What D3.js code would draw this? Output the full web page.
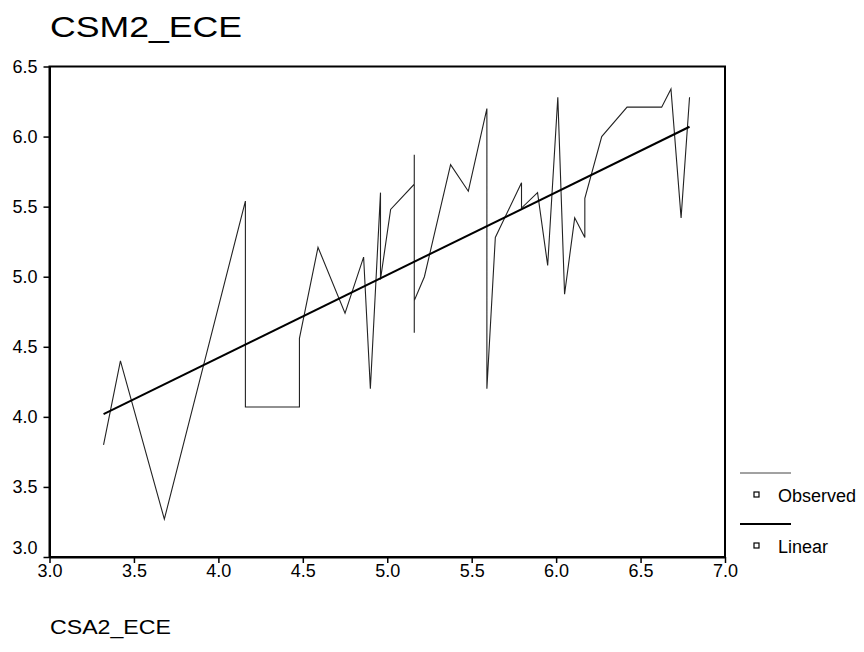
<!DOCTYPE html>
<html>
<head>
<meta charset="utf-8">
<script src="https://cdnjs.cloudflare.com/ajax/libs/d3/7.8.5/d3.min.js"></script>
<style>
	body { margin: 0; background: #fff; }
	svg { display: block; font-family: Arial, "Liberation Sans", sans-serif; }
	.axis path, .axis line { stroke: #000; }
	.axis text { font-size: 18px; fill: #000; }
</style>
</head>
<body>
<svg id="chart" width="864" height="652"></svg>
<script>
/*Values*/
var obsX = [3.32, 3.42, 3.68, 4.16, 4.16, 4.48, 4.48, 4.59, 4.75, 4.86, 4.90, 4.96, 4.96, 5.02,
	5.16, 5.16, 5.16, 5.16, 5.22, 5.375, 5.48, 5.59, 5.59, 5.64, 5.795, 5.795, 5.89, 5.95,
	6.01, 6.05, 6.11, 6.17, 6.17, 6.27, 6.42, 6.625, 6.68, 6.74, 6.79];
var obsY = [3.80, 4.40, 3.27, 5.54, 4.07, 4.07, 4.56, 5.21, 4.74, 5.14, 4.20, 5.60, 4.98, 5.48,
	5.66, 5.87, 4.60, 4.83, 5.00, 5.80, 5.61, 6.20, 4.20, 5.28, 5.67, 5.49, 5.60, 5.08,
	6.28, 4.875, 5.42, 5.28, 5.56, 6.00, 6.21, 6.21, 6.34, 5.42, 6.28];
var fitX = [3.32, 6.79];
var fitY = [4.02, 6.07];
var xTicks = [3.0, 3.5, 4.0, 4.5, 5.0, 5.5, 6.0, 6.5, 7.0];
var yTicks = [3.0, 3.5, 4.0, 4.5, 5.0, 5.5, 6.0, 6.5];
var legendLabels = ["Observed", "Linear"];
var titleText = "CSM2_ECE";
var xTitleText = "CSA2_ECE";

(function (d3) {
	var svg = d3.select("#chart");
	var left = 49.5, right = 725, top = 66.5, bottom = 557;

	/*Scales*/
	var xScale = d3.scaleLinear().domain([3, 7]).range([left, right]);
	var yScale = d3.scaleLinear().domain([3, 6.5]).range([bottom, top]);

	/*Title and x title*/
	svg.append("text").attr("x", 50).attr("y", 37)
		.attr("font-size", 29).attr("textLength", 192).attr("lengthAdjust", "spacingAndGlyphs")
		.text(titleText);
	svg.append("text").attr("x", 50).attr("y", 634)
		.attr("font-size", 20).attr("textLength", 121).attr("lengthAdjust", "spacingAndGlyphs")
		.text(xTitleText);

	/*Frame*/
	svg.append("rect")
		.attr("x", left).attr("y", top)
		.attr("width", right - left).attr("height", bottom - top)
		.attr("fill", "none").attr("stroke", "#000").attr("stroke-width", 2);

	/*Axes*/
	var xAxis = d3.axisBottom(xScale).tickValues(xTicks).tickFormat(d3.format(".1f"))
		.tickSize(6).tickSizeOuter(0).tickPadding(1);
	var yAxis = d3.axisLeft(yScale).tickValues(yTicks).tickFormat(d3.format(".1f"))
		.tickSize(6).tickSizeOuter(0).tickPadding(6);

	svg.append("g").classed("x axis", true)
		.attr("transform", "translate(0," + bottom + ")")
		.call(xAxis);
	svg.append("g").classed("y axis", true)
		.attr("transform", "translate(" + left + ",0)")
		.call(yAxis);
	svg.selectAll(".axis path").attr("stroke-width", 2);
	svg.selectAll(".axis line").attr("stroke-width", 1.5);
	//lowest y label sits a bit above its tick
	svg.selectAll(".y.axis .tick text").filter(function (d) { return d === 3; })
		.attr("y", -9);

	/*Lines*/
	var obs = obsX.map(function (x, i) { return [x, obsY[i]]; });
	var fit = fitX.map(function (x, i) { return [x, fitY[i]]; });
	var line = d3.line()
		.x(function (d) { return xScale(d[0]); })
		.y(function (d) { return yScale(d[1]); });

	svg.append("path").datum(obs).attr("d", line)
		.attr("fill", "none").attr("stroke", "#222").attr("stroke-width", 1.1)
		.attr("stroke-linejoin", "miter");
	svg.append("path").datum(fit).attr("d", line)
		.attr("fill", "none").attr("stroke", "#000").attr("stroke-width", 2);

	/*Legend*/
	var legend = svg.append("g").attr("transform", "translate(740,473)");
	var items = legend.selectAll("g").data(legendLabels).enter().append("g")
		.attr("transform", function (d, i) { return "translate(0," + (i * 51) + ")"; });
	items.append("line")
		.attr("x1", 0).attr("x2", 51).attr("y1", 0).attr("y2", 0)
		.attr("stroke", function (d, i) { return i ? "#000" : "#444"; })
		.attr("stroke-width", function (d, i) { return i ? 2 : 1; });
	items.append("rect")
		.attr("x", 14).attr("y", 19).attr("width", 5).attr("height", 5)
		.attr("fill", "none").attr("stroke", "#000").attr("stroke-width", 1.2);
	items.append("text")
		.attr("x", 38).attr("y", 29)
		.attr("font-size", 18)
		.text(function (d) { return d; });
})(d3);
</script>
</body>
</html>
